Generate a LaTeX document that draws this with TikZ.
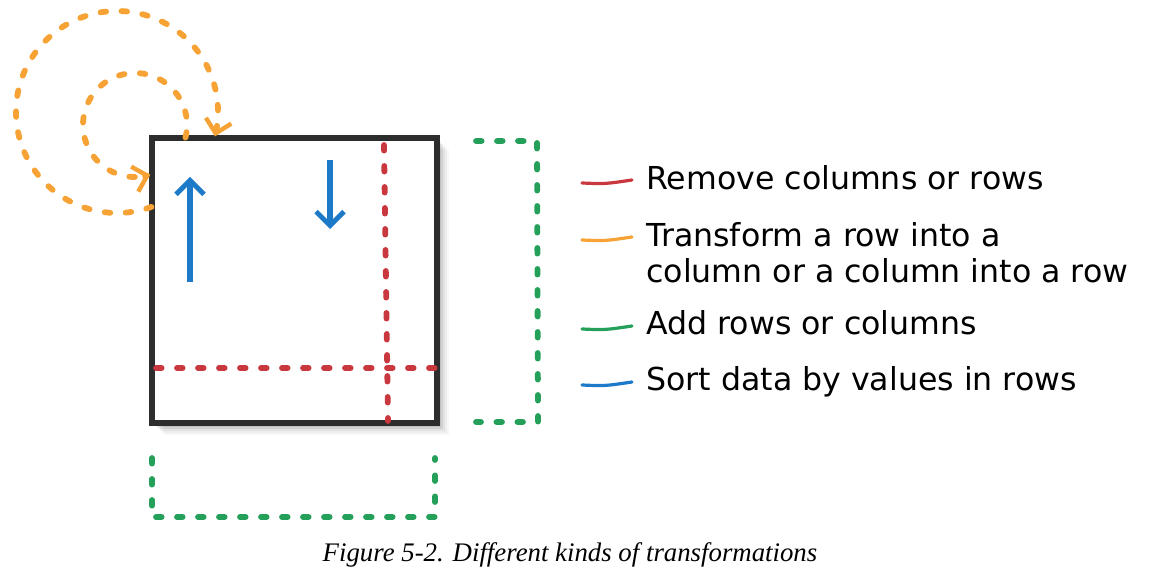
\documentclass[tikz,border=0pt]{standalone}
\usepackage{fontspec}
\setmainfont{Liberation Serif}
\newfontfamily\handfont{DejaVu Sans}
\usetikzlibrary{arrows.meta}
\definecolor{cred}{RGB}{201,56,62}
\definecolor{corange}{RGB}{246,162,52}
\definecolor{cgreen}{RGB}{36,160,90}
\definecolor{cblue}{RGB}{28,122,200}
\definecolor{cblack}{RGB}{45,45,45}
\begin{document}
\begin{tikzpicture}[x=0.5pt,y=-0.5pt,
  dotline/.style={line width=2.9pt, line cap=round, dash pattern=on 2.8pt off 7.7pt},
  redline/.style={dotline, draw=cred},
  greenline/.style={dotline, draw=cgreen, line join=round},
  orangeline/.style={dotline, draw=corange, -{Straight Barb[length=6.5pt,width=13pt,line width=2.2pt]}},
  bluearrow/.style={draw=cblue, line width=2.6pt, -{Straight Barb[length=7pt,width=14pt,line width=2.4pt]}},
  legline/.style={line width=1.6pt, line cap=round},
  legtext/.style={font=\handfont\fontsize{15.8}{18}\selectfont, inner sep=0pt, text=black},
  tablebox/.style={draw=cblack, fill=white, line width=2.6pt, minimum width=142.5pt, minimum height=142.5pt, inner sep=0pt}
]
\useasboundingbox (0,0) rectangle (1150,582);
% shadow
\foreach \o/\op in {2/0.09,4/0.08,6/0.07,8/0.05,10/0.04,12/0.03}
  \fill[black,opacity=\op] (152+\o,138+\o) rectangle (437+\o,423+\o);
\node[tablebox] (tbl) at (294.5,280.5) {};
% red removal lines
\coordinate (rv1) at (384,145);
\coordinate (rv2) at (388,421);
\coordinate (rh1) at (156,368);
\coordinate (rh2) at (435,368);
\draw[redline] (rv1) -- (rv2);
\draw[redline] (rh1) -- (rh2);
% blue sort arrows
\coordinate (bu1) at (190,282);
\coordinate (bu2) at (190,177);
\coordinate (bd1) at (330,160);
\coordinate (bd2) at (330,229);
\draw[bluearrow] (bu1) -- (bu2);
\draw[bluearrow] (bd1) -- (bd2);
% orange transform arcs
\draw[orangeline] plot[smooth, domain=70:374, samples=90] ({117+101*cos(\x)},{112+101*sin(\x)});
\draw[orangeline] plot[smooth, domain=14:-287, samples=90] ({135+52*cos(\x)},{125+52*sin(\x)});
% green add brackets
\coordinate (gr1) at (476,141);
\coordinate (gr2) at (537,141);
\coordinate (gr3) at (538,422);
\coordinate (gr4) at (476,422);
\draw[greenline] (gr1) -- (gr2) -- (gr3) -- (gr4);
\coordinate (gb1) at (152,458);
\coordinate (gb2) at (152,517);
\coordinate (gb3) at (435,517);
\coordinate (gb4) at (435,458);
\draw[greenline] (gb1) -- (gb2) -- (gb3) -- (gb4);
% legend
\node[legtext, anchor=base west] (lrem) at (646,190) {Remove columns or rows};
\node[legtext, anchor=north west, align=left] (ltra) at (646,222) {Transform a row into a\\column or a column into a row};
\node[legtext, anchor=base west] (ladd) at (646,335) {Add rows or columns};
\node[legtext, anchor=base west] (lsor) at (646,390) {Sort data by values in rows};
\coordinate (k1a) at (582,183); \coordinate (k1b) at (632,180);
\coordinate (k2a) at (582,240); \coordinate (k2b) at (632,237);
\coordinate (k3a) at (582,329); \coordinate (k3b) at (632,326);
\coordinate (k4a) at (582,385); \coordinate (k4b) at (632,382);
\draw[legline, cred] (k1a) .. controls (605,184) .. (k1b);
\draw[legline, corange] (k2a) .. controls (605,241) .. (k2b);
\draw[legline, cgreen] (k3a) .. controls (605,330) .. (k3b);
\draw[legline, cblue] (k4a) .. controls (605,386) .. (k4b);
% caption
\node[font=\itshape\fontsize{13.4}{15}\selectfont, anchor=base, inner sep=0pt] (cap) at (570,561) {Figure 5-2. Different kinds of transformations};
\end{tikzpicture}
\end{document}
